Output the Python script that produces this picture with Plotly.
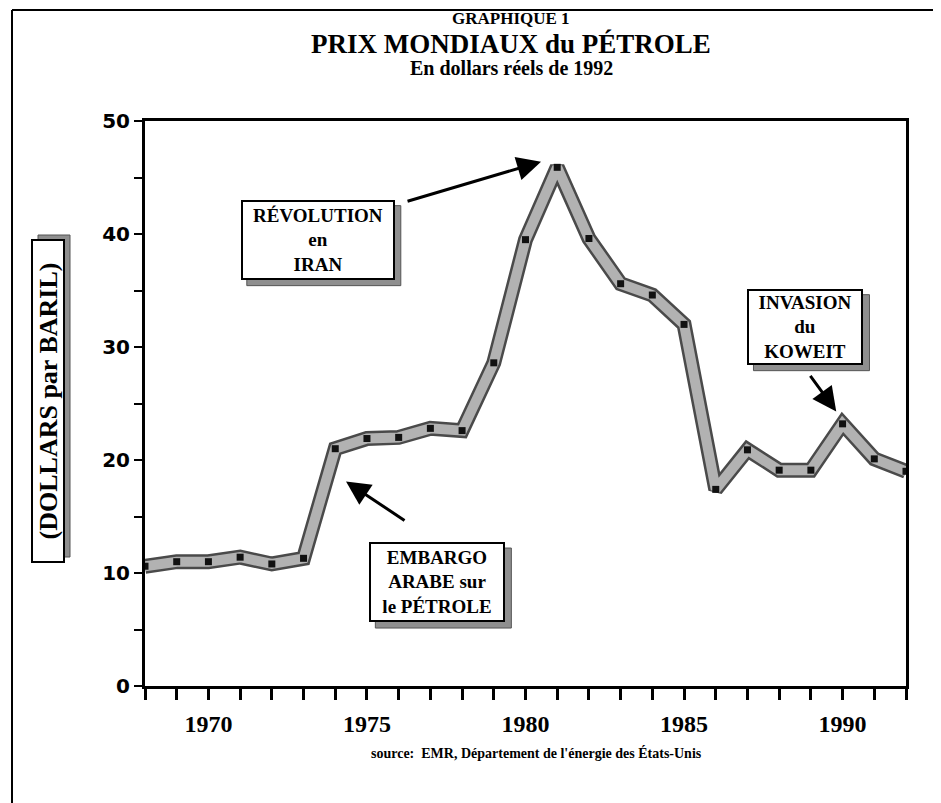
import plotly.graph_objects as go

# ---- data ----
years = list(range(1968, 1993))
price = [10.6, 11.0, 11.0, 11.4, 10.8, 11.3, 21.0, 21.9, 22.0, 22.8, 22.6,
         28.6, 39.5, 45.9, 39.6, 35.6, 34.6, 32.0, 17.4, 20.9, 19.1, 19.1,
         23.2, 20.1, 19.0]

title_lines = ["GRAPHIQUE 1", "PRIX MONDIAUX du PÉTROLE", "En dollars réels de 1992"]
y_title = "(DOLLARS par BARIL)"
source_text = "source:  EMR, Département de l'énergie des États-Unis"

events = [
    # label, box x, box y, arrow tip x, arrow tip y, ax, ay, w, h
    ("RÉVOLUTION<br>en<br>IRAN", 1973.45, 39.5, 1980.49, 46.4, -135, 40, 150, 76),
    ("EMBARGO<br>ARABE sur<br>le PÉTROLE", 1977.22, 9.2, 1974.34, 18.1, 60, 40, 132, 76),
    ("INVASION<br>du<br>KOWEIT", 1988.83, 31.8, 1989.8, 24.3, -27, -37, 112, 72),
]

SERIF = "Liberation Serif"
SHADOW = "#8f8f8f"

L, R, T, B = 137, 43, 113, 125
PW, PH = 941 - L - R, 803 - T - B
def px(xp):
    return (xp - L) / PW
def py(yp):
    return (803 - B - yp) / PH

fig = go.Figure()
# dark outline of the band
fig.add_trace(go.Scatter(x=years, y=price, mode="lines",
                         line=dict(color="#4a4a4a", width=15),
                         hoverinfo="skip", showlegend=False))
# light grey stippled band
fig.add_trace(go.Scatter(x=years, y=price, mode="lines+markers",
                         line=dict(color="#b2b2b2", width=10),
                         marker=dict(symbol="square", size=7, color="#111111"),
                         showlegend=False))

annotations = []
shapes = []
# titles
for txt, yy, sz in [(title_lines[0], 10, 17), (title_lines[1], 36, 27), (title_lines[2], 60, 20)]:
    annotations.append(dict(text="<b>" + txt + "</b>", x=px(503), y=py(yy),
                            xref="paper", yref="paper", xanchor="center", yanchor="middle",
                            showarrow=False, font=dict(family=SERIF, size=sz, color="black")))
# source
annotations.append(dict(text="<b>" + source_text + "</b>", x=px(528), y=py(745),
                        xref="paper", yref="paper", xanchor="center", yanchor="middle",
                        showarrow=False, font=dict(family=SERIF, size=14, color="black")))

# y title box with shadow
ytx, yty, ylen, ythk = px(40), py(393), 320, 30
shapes.append(dict(type="rect", xref="paper", yref="paper", xsizemode="pixel", ysizemode="pixel",
                   xanchor=ytx, yanchor=yty,
                   x0=-ythk / 2 + 5, x1=ythk / 2 + 7, y0=-ylen / 2 + 4, y1=ylen / 2 + 6,
                   fillcolor=SHADOW, line=dict(color="#555555", width=1), layer="above"))
annotations.append(dict(text="<b>" + y_title + "</b>", x=ytx, y=yty,
                        xref="paper", yref="paper", xanchor="center", yanchor="middle",
                        showarrow=False, textangle=-90, width=ylen, height=ythk,
                        font=dict(family=SERIF, size=26, color="black"),
                        bgcolor="white", bordercolor="black", borderwidth=2, borderpad=0))

for label, bx, by, tx, ty, ax, ay, w, h in events:
    shapes.append(dict(type="rect", xref="x", yref="y", xsizemode="pixel", ysizemode="pixel",
                       xanchor=bx, yanchor=by,
                       x0=-w / 2 + 4, x1=w / 2 + 8, y0=-h / 2 - 8, y1=h / 2 - 4,
                       fillcolor=SHADOW, line=dict(color="#555555", width=1), layer="above"))
    annotations.append(dict(text="<b>" + label + "</b>", x=bx, y=by, xref="x", yref="y",
                            xanchor="center", yanchor="middle",
                            showarrow=False, width=w, height=h,
                            font=dict(family=SERIF, size=19, color="black"),
                            bgcolor="white", bordercolor="black", borderwidth=2,
                            borderpad=0))
    annotations.append(dict(text="", x=tx, y=ty, xref="x", yref="y",
                            showarrow=True, ax=ax, ay=ay, arrowhead=2,
                            arrowsize=1.6, arrowwidth=3, arrowcolor="black",
                            standoff=0))

# outer page frame
shapes += [
    dict(type="line", xref="paper", yref="paper", x0=px(4), x1=px(4), y0=py(2), y1=py(803),
         line=dict(color="black", width=2)),
    dict(type="line", xref="paper", yref="paper", x0=px(4), x1=px(938), y0=py(2), y1=py(2),
         line=dict(color="black", width=2)),
    dict(type="line", xref="paper", yref="paper", x0=px(938), x1=px(938), y0=py(2), y1=py(790),
         line=dict(color="black", width=2)),
    dict(type="line", xref="paper", yref="paper", x0=px(893), x1=px(941), y0=py(800), y1=py(800),
         line=dict(color="black", width=2)),
]

fig.update_layout(
    width=941, height=803,
    margin=dict(l=L, r=R, t=T, b=B),
    paper_bgcolor="white", plot_bgcolor="white",
    annotations=annotations, shapes=shapes,
    showlegend=False,
)
fig.update_xaxes(range=[1968, 1992], tick0=1970, dtick=5,
                 ticks="outside", ticklen=11, tickwidth=2.5, tickcolor="black",
                 minor=dict(dtick=1, ticks="outside", ticklen=11, tickwidth=2.5, tickcolor="black"),
                 showline=True, linewidth=3, linecolor="black", mirror=True,
                 showgrid=False, zeroline=False, ticklabelstandoff=3,
                 tickfont=dict(family=SERIF, size=24, color="black", weight="bold"))
fig.update_yaxes(range=[0, 50], dtick=10,
                 ticks="outside", ticklen=8, tickwidth=2, tickcolor="black",
                 minor=dict(dtick=5, ticks="outside", ticklen=8, tickwidth=2, tickcolor="black"),
                 showline=True, linewidth=3, linecolor="black", mirror=True,
                 showgrid=False, zeroline=False,
                 tickfont=dict(family="DejaVu Sans", size=20, color="black", weight="bold"))

fig.write_html("out.html")
